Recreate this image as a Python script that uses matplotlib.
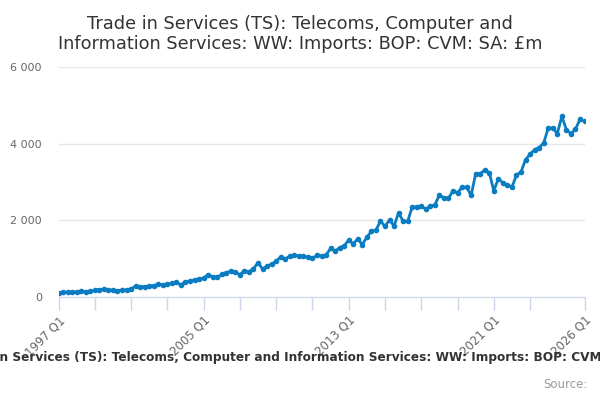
import matplotlib.pyplot as plt
from matplotlib.ticker import FuncFormatter

# quarterly values, 1997 Q1 .. 2026 Q1 (£m)
values = [
    112, 118, 126, 132, 138, 145, 143, 148, 175, 195,
    205, 192, 180, 168, 175, 190, 215, 280, 272, 268,
    278, 300, 328, 318, 330, 356, 382, 321, 391, 417,
    451, 470, 495, 582, 530, 512, 590, 634, 677, 651,
    582, 686, 660, 738, 894, 729, 807, 859, 929, 1050,
    990, 1068, 1094, 1068, 1068, 1042, 1007, 1085, 1068, 1094,
    1267, 1198, 1285, 1337, 1484, 1389, 1519, 1363, 1563, 1710,
    1736, 1988, 1840, 2014, 1849, 2200, 1975, 1970, 2352, 2352,
    2370, 2292, 2370, 2404, 2656, 2587, 2570, 2778, 2717, 2864,
    2864, 2648, 3221, 3221, 3307, 3247, 2768, 3091, 2977, 2917,
    2872, 3177, 3263, 3585, 3724, 3846, 3898, 4018, 4409, 4409,
    4263, 4713, 4367, 4263, 4375, 4635, 4583,
]
periods = [f"{1997 + i // 4} Q{i % 4 + 1}" for i in range(len(values))]
tick_years = [1997, 1999, 2001, 2003, 2005, 2007, 2009, 2011, 2013,
              2015, 2017, 2019, 2021, 2023, 2026]
label_years = [1997, 2005, 2013, 2021, 2026]
y_ticks = [0, 2000, 4000, 6000]

title = ("Trade in Services (TS): Telecoms, Computer and\n"
         "Information Services: WW: Imports: BOP: CVM: SA: £m")
series_name = ("Trade in Services (TS): Telecoms, Computer and Information "
               "Services: WW: Imports: BOP: CVM: SA: £m")

blue = '#0a7cc1'
grey_text = '#666666'

fig = plt.figure(figsize=(6, 4), dpi=100)
ax = fig.add_axes([58.5 / 600, 1 - 297 / 400, 526 / 600, 230 / 400])

x = list(range(len(values)))
ax.plot(x, values, color=blue, lw=2, marker='o', ms=3, zorder=3)

ax.set_xlim(0, len(values) - 1)
ax.set_ylim(0, 6000)
ax.set_yticks(y_ticks)
ax.yaxis.set_major_formatter(FuncFormatter(lambda v, p: f"{int(v):,}".replace(',', ' ')))
ax.grid(axis='y', color='#e6e6e6', lw=1)
ax.set_axisbelow(True)

tick_pos = [periods.index(f"{y} Q1") for y in tick_years]
ax.set_xticks(tick_pos)
ax.set_xticklabels([f"{y} Q1" if y in label_years else '' for y in tick_years],
                   rotation=45, ha='right', rotation_mode='anchor')

for side in ['top', 'right', 'left']:
    ax.spines[side].set_visible(False)
ax.spines['bottom'].set_color('#ccd6eb')
ax.tick_params(axis='x', colors='#ccd6eb', length=9, width=1, labelcolor=grey_text,
               labelsize=8.5, pad=3)
ax.tick_params(axis='y', length=0, labelcolor=grey_text, labelsize=8, pad=12)

fig.text(0.5, 0.962, title, ha='center', va='top', fontsize=12.8,
         color='#333333', linespacing=1.15)
fig.text(0.51, 1 - 358 / 400, series_name, ha='center', va='center',
         fontsize=8.7, fontweight='bold', color='#333333')
fig.text(0.98, 1 - 384 / 400, 'Source:', ha='right', va='center',
         fontsize=8.5, color='#999999')

fig.savefig('out.png', dpi=100)
